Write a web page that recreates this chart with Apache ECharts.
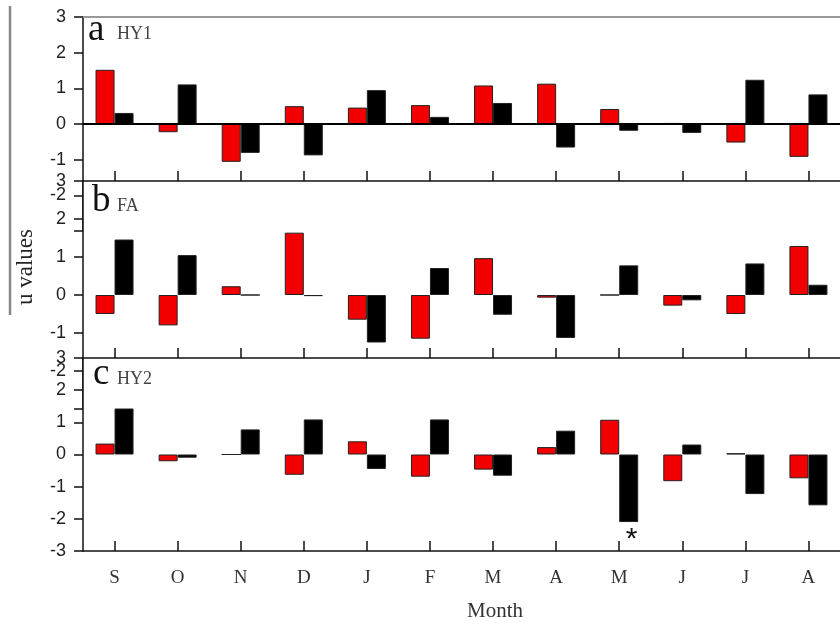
<!DOCTYPE html>
<html>
<head>
<meta charset="utf-8">
<script src="https://cdn.jsdelivr.net/npm/echarts@6/dist/echarts.min.js"></script>
<style>html,body{margin:0;padding:0;background:#fff}#c{width:840px;height:625px}</style>
</head>
<body>
<div id="c"></div>
<script>
// ---- data ----
var months = ['S','O','N','D','J','F','M','A','M','J','J','A'];
var panelNames = ['HY1','FA','HY2'];
var panelLetters = ['a','b','c'];
var hy1Red   = [1.52,-0.23,-1.06,0.50,0.46,0.53,1.08,1.13,0.42,0.03,-0.52,-0.92];
var hy1Black = [0.31,1.11,-0.81,-0.88,0.95,0.20,0.59,-0.66,-0.19,-0.25,1.24,0.83];
var faRed    = [-0.50,-0.80,0.23,1.64,-0.65,-1.15,0.97,-0.07,0,-0.28,-0.50,1.29];
var faBlack  = [1.46,1.05,0,-0.03,-1.25,0.71,-0.52,-1.13,0.78,-0.14,0.83,0.27];
var hy2Red   = [0.34,-0.21,0,-0.63,0.41,-0.69,-0.47,0.23,1.08,-0.83,0.04,-0.74];
var hy2Black = [1.43,-0.10,0.78,1.09,-0.45,1.09,-0.66,0.74,-2.10,0.31,-1.23,-1.58];
var yTicks = [-3,-2,-1,0,1,2,3];
var starIndex = 8; // significant value in HY2 (May)
var xTitle = 'Month';
var yTitle = 'u values';

var chart = echarts.init(document.getElementById('c'));

var grids = [
  {left:83, top:17,  width:763, height:214, z:0},
  {left:83, top:181, width:763, height:228, z:10, show:true, backgroundColor:'#fff', borderWidth:0},
  {left:83, top:358, width:763, height:193, z:20, show:true, backgroundColor:'#fff', borderWidth:0}
];

var serif = '"Liberation Serif","Times New Roman",serif';
var sans = '"Liberation Sans",Arial,sans-serif';

var xAxes = [
  // panel a top border
  {gridIndex:0, type:'category', data:months, position:'top', z:1,
   axisLine:{onZero:false, lineStyle:{color:'#999', width:2}}, axisTick:{show:false}, axisLabel:{show:false}},
  // panel b top
  {gridIndex:1, type:'category', data:months, position:'top', z:11,
   axisLine:{onZero:false, lineStyle:{color:'#111', width:1.5}},
   axisTick:{show:true, inside:false, length:10, alignWithLabel:true, interval:0, lineStyle:{color:'#111', width:1.5}},
   axisLabel:{show:false}},
  // panel c top
  {gridIndex:2, type:'category', data:months, position:'top', z:21,
   axisLine:{onZero:false, lineStyle:{color:'#111', width:1.5}},
   axisTick:{show:true, inside:false, length:10, alignWithLabel:true, interval:0, lineStyle:{color:'#111', width:1.5}},
   axisLabel:{show:false}},
  // panel c bottom with labels
  {gridIndex:2, type:'category', data:months, position:'bottom', z:21,
   axisLine:{onZero:false, lineStyle:{color:'#111', width:1.5}},
   axisTick:{show:true, inside:true, length:10, alignWithLabel:true, interval:0, lineStyle:{color:'#111', width:1.5}},
   axisLabel:{interval:0, margin:18, fontFamily:serif, fontSize:19, color:'#333'}}
];

function yAxis(gi, z, hideMin) {
  return {
    gridIndex:gi, type:'value', min:-3, max:3, interval:1, z:z,
    axisLine:{show:true, onZero:false, lineStyle:{color:'#111', width:1.5}},
    axisTick:{show:true, inside:false, length:9, lineStyle:{color:'#111', width:1.5}},
    splitLine:{show:false},
    axisLabel:{margin:17, fontFamily:sans, fontSize:18, color:'#222',
      formatter:function(v){ return (hideMin && v === -3) ? '' : String(v); }}
  };
}
var yAxes = [yAxis(0,1,true), yAxis(1,11,true), yAxis(2,21,false)];

var zeroLine = {silent:true, symbol:'none', label:{show:false},
  lineStyle:{color:'#000', width:1.8, type:'solid'}, data:[{yAxis:0}]};

function barSeries(data, color, xi, yi, z, withZero) {
  var s = {type:'bar', data:data, xAxisIndex:xi, yAxisIndex:yi, z:z,
    barWidth:19, barGap:'0%',
    itemStyle:{color:color, borderColor:'#222', borderWidth:1},
    animation:false};
  if (withZero) s.markLine = zeroLine;
  return s;
}

var hy2BlackData = hy2Black.map(function(v,i){
  if (i === starIndex) {
    return {value:v, label:{show:true, position:'bottom', distance:3, formatter:'*',
      fontSize:30, fontFamily:sans, color:'#111', offset:[3,0]}};
  }
  return v;
});

var series = [
  barSeries(hy1Red, '#f20000', 0, 0, 2, true),
  barSeries(hy1Black, '#000', 0, 0, 2, false),
  barSeries(faRed, '#f20000', 1, 1, 12, true),
  barSeries(faBlack, '#000', 1, 1, 12, false),
  barSeries(hy2Red, '#f20000', 3, 2, 22, true),
  barSeries(hy2BlackData, '#000', 3, 2, 22, false)
];

var letterX = [88, 92, 93];
var letterY = [30, 201, 374];
var nameY = [34, 206, 379];
var graphics = [];
for (var i = 0; i < 3; i++) {
  graphics.push({type:'text', x:letterX[i], y:letterY[i], z:100,
    style:{text:panelLetters[i], font:'37px ' + serif, fill:'#111', verticalAlign:'middle', align:'left'}});
  graphics.push({type:'text', x:117, y:nameY[i], z:100,
    style:{text:panelNames[i], font:'18px ' + serif, fill:'#444', verticalAlign:'middle', align:'left'}});
}
graphics.push({type:'text', x:495, y:611, z:100,
  style:{text:xTitle, font:'21px ' + serif, fill:'#333', align:'center', verticalAlign:'middle'}});
graphics.push({type:'text', x:26, y:267, z:100, rotation:Math.PI/2,
  style:{text:yTitle, font:'23px ' + serif, fill:'#222', align:'center', verticalAlign:'middle'}});
graphics.push({type:'line', z:100, shape:{x1:10, y1:6, x2:10, y2:315},
  style:{stroke:'#888', lineWidth:2.5}});

chart.setOption({
  animation:false,
  backgroundColor:'#fff',
  grid:grids,
  xAxis:xAxes,
  yAxis:yAxes,
  series:series,
  graphic:graphics
});
</script>
</body>
</html>
